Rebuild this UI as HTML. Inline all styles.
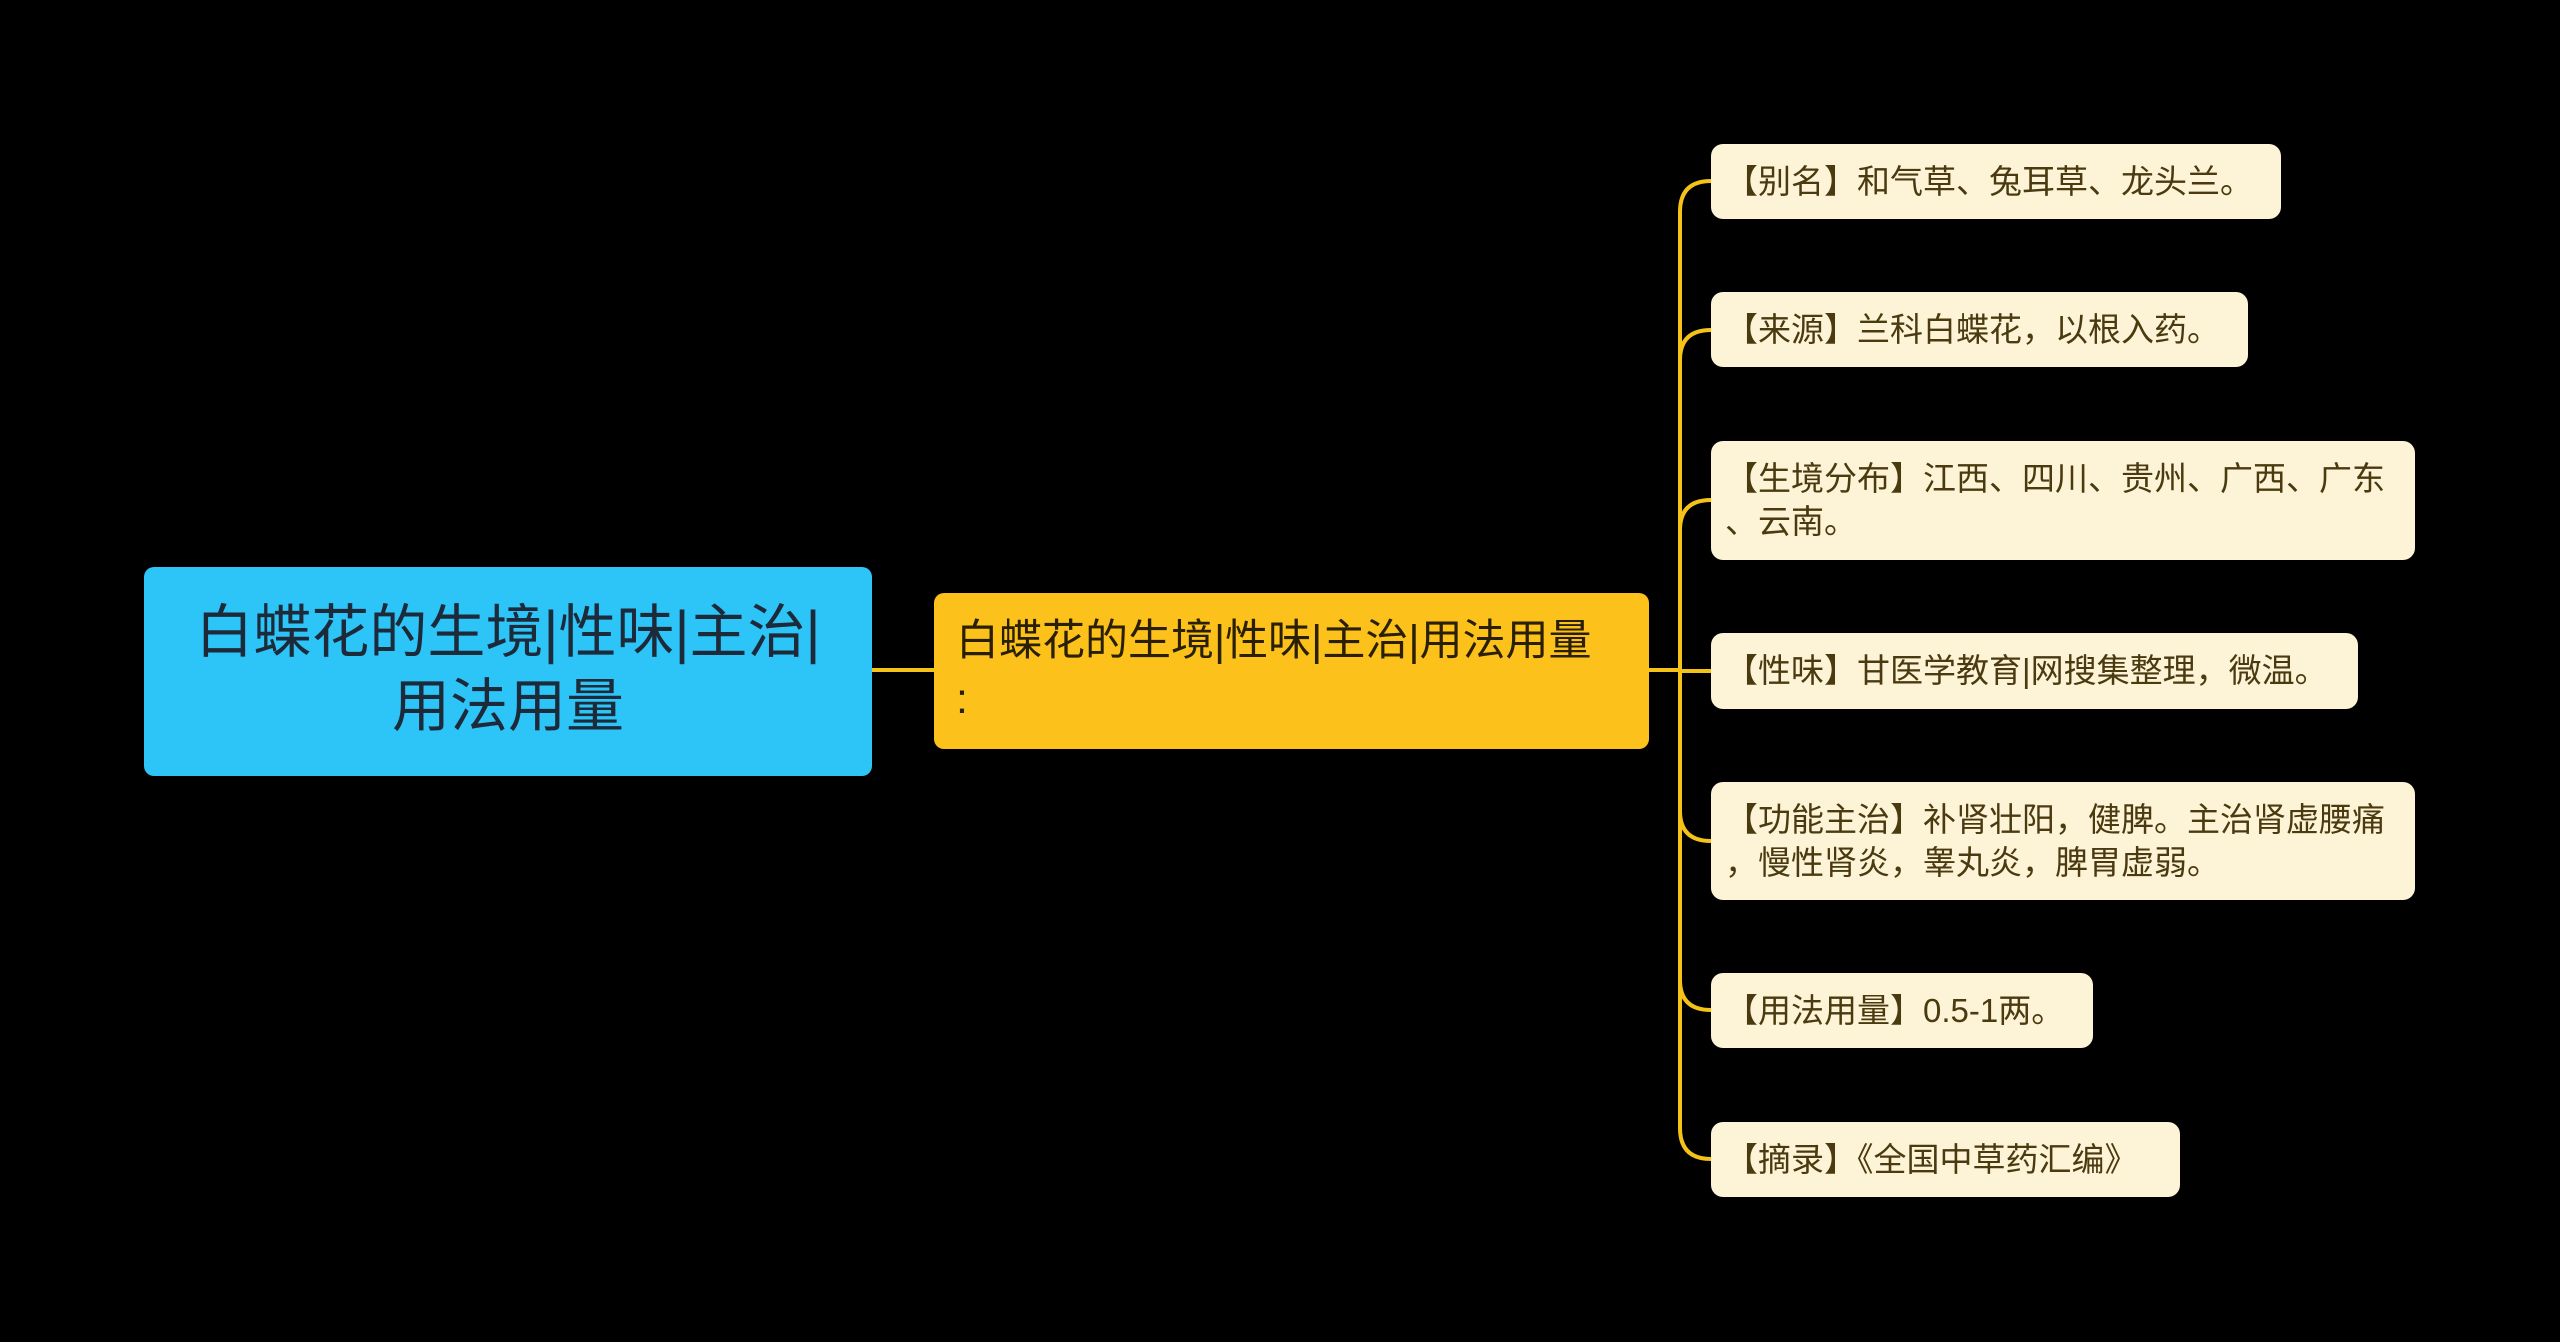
<!DOCTYPE html>
<html><head><meta charset="utf-8"><style>
html,body{margin:0;padding:0;background:#000;width:2560px;height:1342px;overflow:hidden;position:relative}
.n{position:absolute;box-sizing:border-box;font-family:"Liberation Sans","Noto Sans CJK SC",sans-serif;white-space:nowrap}
.root{left:144px;top:567px;width:728px;height:209px;background:#2dc4f7;border-radius:10px;color:#1d2a3a;font-size:58px;line-height:74px;text-align:center;padding-top:29px}
.mid{left:934px;top:593px;width:715px;height:156px;background:#fcc21b;border-radius:10px;color:#2a2000;font-size:43px;line-height:58px;padding:19px 0 0 22px}
.leaf{left:1711px;background:#fdf3d6;border-radius:12px;color:#4a3a10;font-size:33px;line-height:43px;padding:0 0 0 14px}
</style></head><body>
<svg width="2560" height="1342" style="position:absolute;left:0;top:0">
<g stroke="#f5c218" stroke-width="4" fill="none">
<line x1="872" y1="670" x2="934" y2="670"/>
<line x1="1649" y1="670" x2="1680" y2="670"/>
<path d="M1711,181 Q1680,181 1680,212 L1680,1128 Q1680,1159 1711,1159"/>
<path d="M1680,360 Q1680,330 1711,330"/>
<path d="M1680,530 Q1680,500 1711,500"/>
<path d="M1680,671 L1711,671"/>
<path d="M1680,811 Q1680,841 1711,841"/>
<path d="M1680,980 Q1680,1010 1711,1010"/>
</g></svg>
<div class="n root">白蝶花的生境|性味|主治|<br>用法用量</div>
<div class="n mid">白蝶花的生境|性味|主治|用法用量<br>:</div>
<div class="n leaf" style="top:144px;width:570px;height:75px;padding-top:16px">【别名】和气草、兔耳草、龙头兰。</div>
<div class="n leaf" style="top:292px;width:537px;height:75px;padding-top:16px">【来源】兰科白蝶花，以根入药。</div>
<div class="n leaf" style="top:441px;width:704px;height:119px;padding-top:16px">【生境分布】江西、四川、贵州、广西、广东<br>、云南。</div>
<div class="n leaf" style="top:633px;width:647px;height:76px;padding-top:16px">【性味】甘医学教育|网搜集整理，微温。</div>
<div class="n leaf" style="top:782px;width:704px;height:118px;padding-top:16px">【功能主治】补肾壮阳，健脾。主治肾虚腰痛<br>，慢性肾炎，睾丸炎，脾胃虚弱。</div>
<div class="n leaf" style="top:973px;width:382px;height:75px;padding-top:16px">【用法用量】0.5-1两。</div>
<div class="n leaf" style="top:1122px;width:469px;height:75px;padding-top:16px">【摘录】《全国中草药汇编》</div>
</body></html>
